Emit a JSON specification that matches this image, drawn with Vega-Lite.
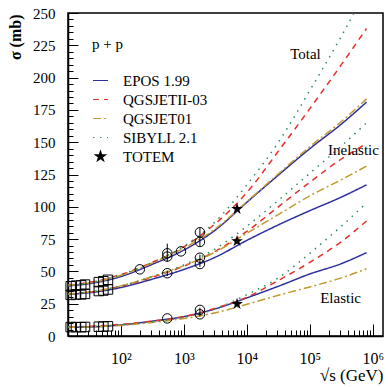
{
  "$schema": "https://vega.github.io/schema/vega-lite/v6.json",
  "width": 315,
  "height": 323,
  "autosize": {"type": "none"},
  "padding": {"left": 68, "top": 13, "right": 5, "bottom": 51},
  "config": {
    "view": {"stroke": "black", "strokeWidth": 1.5},
    "font": "Liberation Serif",
    "axis": {"grid": false, "domainColor": "black", "domainWidth": 1.5, "tickColor": "black", "tickWidth": 1, "labelColor": "black", "titleColor": "black", "labelFont": "Liberation Serif", "titleFont": "Liberation Serif"}
  },
  "resolve": {"axis": {"x": "independent", "y": "independent"}},
  "datasets": {
    "curves": [
      {"m": "EPOS 1.99", "k": "tot", "E": 14.45, "s": 38.8}, {"m": "EPOS 1.99", "k": "tot", "E": 31.62, "s": 40.5}, {"m": "EPOS 1.99", "k": "tot", "E": 100, "s": 46}, {"m": "EPOS 1.99", "k": "tot", "E": 316.2, "s": 55.5}, {"m": "EPOS 1.99", "k": "tot", "E": 1000, "s": 66.5}, {"m": "EPOS 1.99", "k": "tot", "E": 3162, "s": 82}, {"m": "EPOS 1.99", "k": "tot", "E": 10000, "s": 103.5}, {"m": "EPOS 1.99", "k": "tot", "E": 31623, "s": 124.5}, {"m": "EPOS 1.99", "k": "tot", "E": 100000, "s": 145}, {"m": "EPOS 1.99", "k": "tot", "E": 316228, "s": 164}, {"m": "EPOS 1.99", "k": "tot", "E": 794328, "s": 181},
      {"m": "EPOS 1.99", "k": "inel", "E": 14.45, "s": 32.3}, {"m": "EPOS 1.99", "k": "inel", "E": 31.62, "s": 33.5}, {"m": "EPOS 1.99", "k": "inel", "E": 100, "s": 37.5}, {"m": "EPOS 1.99", "k": "inel", "E": 316.2, "s": 44}, {"m": "EPOS 1.99", "k": "inel", "E": 1000, "s": 51.5}, {"m": "EPOS 1.99", "k": "inel", "E": 3162, "s": 61}, {"m": "EPOS 1.99", "k": "inel", "E": 10000, "s": 74}, {"m": "EPOS 1.99", "k": "inel", "E": 31623, "s": 86}, {"m": "EPOS 1.99", "k": "inel", "E": 100000, "s": 97}, {"m": "EPOS 1.99", "k": "inel", "E": 316228, "s": 107.5}, {"m": "EPOS 1.99", "k": "inel", "E": 794328, "s": 117},
      {"m": "EPOS 1.99", "k": "el", "E": 14.45, "s": 6.8}, {"m": "EPOS 1.99", "k": "el", "E": 31.62, "s": 7.0}, {"m": "EPOS 1.99", "k": "el", "E": 100, "s": 8.5}, {"m": "EPOS 1.99", "k": "el", "E": 316.2, "s": 11.5}, {"m": "EPOS 1.99", "k": "el", "E": 1000, "s": 15}, {"m": "EPOS 1.99", "k": "el", "E": 3162, "s": 21}, {"m": "EPOS 1.99", "k": "el", "E": 10000, "s": 29.5}, {"m": "EPOS 1.99", "k": "el", "E": 31623, "s": 38.5}, {"m": "EPOS 1.99", "k": "el", "E": 100000, "s": 48}, {"m": "EPOS 1.99", "k": "el", "E": 316228, "s": 56}, {"m": "EPOS 1.99", "k": "el", "E": 794328, "s": 64.5},
      {"m": "QGSJETII-03", "k": "tot", "E": 14.45, "s": 39.5}, {"m": "QGSJETII-03", "k": "tot", "E": 31.62, "s": 41.5}, {"m": "QGSJETII-03", "k": "tot", "E": 100, "s": 47.5}, {"m": "QGSJETII-03", "k": "tot", "E": 316.2, "s": 57}, {"m": "QGSJETII-03", "k": "tot", "E": 1000, "s": 69}, {"m": "QGSJETII-03", "k": "tot", "E": 3162, "s": 87}, {"m": "QGSJETII-03", "k": "tot", "E": 10000, "s": 111}, {"m": "QGSJETII-03", "k": "tot", "E": 31623, "s": 143}, {"m": "QGSJETII-03", "k": "tot", "E": 100000, "s": 176}, {"m": "QGSJETII-03", "k": "tot", "E": 316228, "s": 210}, {"m": "QGSJETII-03", "k": "tot", "E": 794328, "s": 238},
      {"m": "QGSJETII-03", "k": "inel", "E": 14.45, "s": 32.5}, {"m": "QGSJETII-03", "k": "inel", "E": 31.62, "s": 34}, {"m": "QGSJETII-03", "k": "inel", "E": 100, "s": 38.5}, {"m": "QGSJETII-03", "k": "inel", "E": 316.2, "s": 45.5}, {"m": "QGSJETII-03", "k": "inel", "E": 1000, "s": 54}, {"m": "QGSJETII-03", "k": "inel", "E": 3162, "s": 65.5}, {"m": "QGSJETII-03", "k": "inel", "E": 10000, "s": 81}, {"m": "QGSJETII-03", "k": "inel", "E": 31623, "s": 100}, {"m": "QGSJETII-03", "k": "inel", "E": 100000, "s": 119}, {"m": "QGSJETII-03", "k": "inel", "E": 316228, "s": 137}, {"m": "QGSJETII-03", "k": "inel", "E": 794328, "s": 149},
      {"m": "QGSJETII-03", "k": "el", "E": 14.45, "s": 7}, {"m": "QGSJETII-03", "k": "el", "E": 31.62, "s": 7.5}, {"m": "QGSJETII-03", "k": "el", "E": 100, "s": 9}, {"m": "QGSJETII-03", "k": "el", "E": 316.2, "s": 11.5}, {"m": "QGSJETII-03", "k": "el", "E": 1000, "s": 15}, {"m": "QGSJETII-03", "k": "el", "E": 3162, "s": 21.5}, {"m": "QGSJETII-03", "k": "el", "E": 10000, "s": 30}, {"m": "QGSJETII-03", "k": "el", "E": 31623, "s": 43}, {"m": "QGSJETII-03", "k": "el", "E": 100000, "s": 57}, {"m": "QGSJETII-03", "k": "el", "E": 316228, "s": 73}, {"m": "QGSJETII-03", "k": "el", "E": 794328, "s": 89},
      {"m": "QGSJET01", "k": "tot", "E": 14.45, "s": 39.2}, {"m": "QGSJET01", "k": "tot", "E": 31.62, "s": 41}, {"m": "QGSJET01", "k": "tot", "E": 100, "s": 47}, {"m": "QGSJET01", "k": "tot", "E": 316.2, "s": 56.5}, {"m": "QGSJET01", "k": "tot", "E": 1000, "s": 68}, {"m": "QGSJET01", "k": "tot", "E": 3162, "s": 83}, {"m": "QGSJET01", "k": "tot", "E": 10000, "s": 104}, {"m": "QGSJET01", "k": "tot", "E": 31623, "s": 125.5}, {"m": "QGSJET01", "k": "tot", "E": 100000, "s": 146.5}, {"m": "QGSJET01", "k": "tot", "E": 316228, "s": 166}, {"m": "QGSJET01", "k": "tot", "E": 794328, "s": 183.5},
      {"m": "QGSJET01", "k": "inel", "E": 14.45, "s": 32.4}, {"m": "QGSJET01", "k": "inel", "E": 31.62, "s": 34}, {"m": "QGSJET01", "k": "inel", "E": 100, "s": 38.8}, {"m": "QGSJET01", "k": "inel", "E": 316.2, "s": 46}, {"m": "QGSJET01", "k": "inel", "E": 1000, "s": 54.5}, {"m": "QGSJET01", "k": "inel", "E": 3162, "s": 65}, {"m": "QGSJET01", "k": "inel", "E": 10000, "s": 79.5}, {"m": "QGSJET01", "k": "inel", "E": 31623, "s": 94}, {"m": "QGSJET01", "k": "inel", "E": 100000, "s": 108.5}, {"m": "QGSJET01", "k": "inel", "E": 316228, "s": 121}, {"m": "QGSJET01", "k": "inel", "E": 794328, "s": 131.5},
      {"m": "QGSJET01", "k": "el", "E": 14.45, "s": 6.8}, {"m": "QGSJET01", "k": "el", "E": 31.62, "s": 7.0}, {"m": "QGSJET01", "k": "el", "E": 100, "s": 8.2}, {"m": "QGSJET01", "k": "el", "E": 316.2, "s": 10.5}, {"m": "QGSJET01", "k": "el", "E": 1000, "s": 13.5}, {"m": "QGSJET01", "k": "el", "E": 3162, "s": 18}, {"m": "QGSJET01", "k": "el", "E": 10000, "s": 24.5}, {"m": "QGSJET01", "k": "el", "E": 31623, "s": 31.5}, {"m": "QGSJET01", "k": "el", "E": 100000, "s": 38}, {"m": "QGSJET01", "k": "el", "E": 316228, "s": 45}, {"m": "QGSJET01", "k": "el", "E": 794328, "s": 52},
      {"m": "SIBYLL 2.1", "k": "tot", "E": 14.45, "s": 39}, {"m": "SIBYLL 2.1", "k": "tot", "E": 31.62, "s": 41.2}, {"m": "SIBYLL 2.1", "k": "tot", "E": 100, "s": 47.5}, {"m": "SIBYLL 2.1", "k": "tot", "E": 316.2, "s": 57}, {"m": "SIBYLL 2.1", "k": "tot", "E": 1000, "s": 69.5}, {"m": "SIBYLL 2.1", "k": "tot", "E": 3162, "s": 88.5}, {"m": "SIBYLL 2.1", "k": "tot", "E": 10000, "s": 117}, {"m": "SIBYLL 2.1", "k": "tot", "E": 31623, "s": 150}, {"m": "SIBYLL 2.1", "k": "tot", "E": 100000, "s": 190}, {"m": "SIBYLL 2.1", "k": "tot", "E": 316228, "s": 232}, {"m": "SIBYLL 2.1", "k": "tot", "E": 794328, "s": 268},
      {"m": "SIBYLL 2.1", "k": "inel", "E": 14.45, "s": 32.3}, {"m": "SIBYLL 2.1", "k": "inel", "E": 31.62, "s": 34}, {"m": "SIBYLL 2.1", "k": "inel", "E": 100, "s": 38.7}, {"m": "SIBYLL 2.1", "k": "inel", "E": 316.2, "s": 46}, {"m": "SIBYLL 2.1", "k": "inel", "E": 1000, "s": 55}, {"m": "SIBYLL 2.1", "k": "inel", "E": 3162, "s": 67.5}, {"m": "SIBYLL 2.1", "k": "inel", "E": 10000, "s": 85}, {"m": "SIBYLL 2.1", "k": "inel", "E": 31623, "s": 105}, {"m": "SIBYLL 2.1", "k": "inel", "E": 100000, "s": 126}, {"m": "SIBYLL 2.1", "k": "inel", "E": 316228, "s": 147}, {"m": "SIBYLL 2.1", "k": "inel", "E": 794328, "s": 165},
      {"m": "SIBYLL 2.1", "k": "el", "E": 14.45, "s": 6.7}, {"m": "SIBYLL 2.1", "k": "el", "E": 31.62, "s": 7.2}, {"m": "SIBYLL 2.1", "k": "el", "E": 100, "s": 8.8}, {"m": "SIBYLL 2.1", "k": "el", "E": 316.2, "s": 11}, {"m": "SIBYLL 2.1", "k": "el", "E": 1000, "s": 14.5}, {"m": "SIBYLL 2.1", "k": "el", "E": 3162, "s": 21}, {"m": "SIBYLL 2.1", "k": "el", "E": 10000, "s": 32}, {"m": "SIBYLL 2.1", "k": "el", "E": 31623, "s": 45}, {"m": "SIBYLL 2.1", "k": "el", "E": 100000, "s": 64}, {"m": "SIBYLL 2.1", "k": "el", "E": 316228, "s": 85}, {"m": "SIBYLL 2.1", "k": "el", "E": 794328, "s": 103}
    ],
    "pts": [
      {"E": 16, "s": 38.5, "sym": "square"}, {"E": 19.4, "s": 39, "sym": "square"}, {"E": 23.5, "s": 39.2, "sym": "square"}, {"E": 27, "s": 39.8, "sym": "square"}, {"E": 44.7, "s": 41.7, "sym": "square"}, {"E": 52.8, "s": 42.4, "sym": "square"}, {"E": 62.5, "s": 43.5, "sym": "square"},
      {"E": 16, "s": 31.8, "sym": "square"}, {"E": 19.4, "s": 32.2, "sym": "square"}, {"E": 23.5, "s": 32.2, "sym": "square"}, {"E": 27, "s": 32.6, "sym": "square"}, {"E": 44.7, "s": 34.8, "sym": "square"}, {"E": 52.8, "s": 35.2, "sym": "square"}, {"E": 62.5, "s": 36.0, "sym": "square"},
      {"E": 16, "s": 6.9, "sym": "square"}, {"E": 19.4, "s": 6.9, "sym": "square"}, {"E": 23.5, "s": 6.8, "sym": "square"}, {"E": 27, "s": 7.0, "sym": "square"}, {"E": 44.7, "s": 7.2, "sym": "square"}, {"E": 52.8, "s": 7.3, "sym": "square"}, {"E": 62.5, "s": 7.5, "sym": "square"},
      {"E": 200, "s": 51.6, "sym": "circle"}, {"E": 546, "s": 61.5, "sym": "circle"}, {"E": 546, "s": 64, "sym": "circle"}, {"E": 900, "s": 65.5, "sym": "circle"}, {"E": 1800, "s": 72.8, "sym": "circle"}, {"E": 1800, "s": 80.3, "sym": "circle"},
      {"E": 546, "s": 48.6, "sym": "circle"}, {"E": 1800, "s": 55.7, "sym": "circle"}, {"E": 1800, "s": 60.6, "sym": "circle"},
      {"E": 546, "s": 13.6, "sym": "circle"}, {"E": 1800, "s": 16.8, "sym": "circle"}, {"E": 1800, "s": 20.2, "sym": "circle"}
    ],
    "errs": [
      {"E": 546, "lo": 57.5, "hi": 71.5}, {"E": 1800, "lo": 69.5, "hi": 83.5}, {"E": 1800, "lo": 53.5, "hi": 63}, {"E": 1800, "lo": 15, "hi": 22}, {"E": 546, "lo": 46.5, "hi": 50.5}
    ],
    "totem": [
      {"E": 7000, "s": 98.3}, {"E": 7000, "s": 73.5}, {"E": 7000, "s": 24.8}
    ],
    "labels": [
      {"E": 48700, "s": 218, "t": "Total"}, {"E": 195000, "s": 144, "t": "Inelastic"}, {"E": 146000, "s": 29.2, "t": "Elastic"}
    ]
  },
  "layer": [
    {
      "data": {"name": "curves"},
      "mark": {"type": "line", "clip": true, "strokeWidth": 1.5, "interpolate": "monotone"},
      "encoding": {
        "x": {
          "field": "E", "type": "quantitative",
          "scale": {"type": "log", "domain": [14.5, 1450000], "nice": false},
          "axis": {
            "orient": "bottom",
            "title": "√s (GeV)", "titleFontSize": 17, "titleFontWeight": "normal", "titleAlign": "right", "titleBaseline": "middle", "titleX": 315, "titleY": 39,
            "values": [100, 1000, 10000, 100000, 1000000],
            "labelExpr": "'10' + ['⁰','¹','²','³','⁴','⁵','⁶'][round(log(datum.value)/LN10)]",
            "tickSize": -12,
            "labelPadding": 26, "labelFontSize": 16, "labelOverlap": false, "labelFlush": false, "labelBound": false
          }
        },
        "y": {
          "field": "s", "type": "quantitative",
          "scale": {"domain": [0, 250], "nice": false},
          "axis": {
            "orient": "left",
            "title": "σ (mb)", "titleFontSize": 16, "titleFontWeight": "bold", "titleAngle": -90, "titleAlign": "right", "titleBaseline": "middle", "titleX": -53, "titleY": 1,
            "values": [0, 25, 50, 75, 100, 125, 150, 175, 200, 225, 250],
            "tickSize": -10,
            "labelPadding": 23, "labelFontSize": 15, "labelOverlap": false, "labelFlush": false, "labelBound": false
          }
        },
        "color": {
          "field": "m", "type": "nominal",
          "scale": {"domain": ["EPOS 1.99", "QGSJETII-03", "QGSJET01", "SIBYLL 2.1", "TOTEM"], "range": ["#2f2f9c", "#e8302a", "#c09a30", "#2e8b57", "#000000"]},
          "legend": {
            "orient": "none", "legendX": 24, "legendY": 24,
            "title": "p + p", "titleFont": "Liberation Serif", "titleFontSize": 15, "titleFontWeight": "normal", "titleColor": "black", "titlePadding": 20,
            "labelFont": "Liberation Serif", "labelFontSize": 15, "labelColor": "black", "labelOffset": 14,
            "symbolType": "stroke", "symbolSize": 225, "symbolStrokeWidth": 1.2, "rowPadding": 2,
            "encode": {"symbols": {"update": {
              "shape": {"signal": "datum.value === 'TOTEM' ? 'M0,-1L0.225,-0.309L0.951,-0.309L0.363,0.118L0.588,0.809L0,0.382L-0.588,0.809L-0.363,0.118L-0.951,-0.309L-0.225,-0.309Z' : 'stroke'"},
              "fill": {"signal": "datum.value === 'TOTEM' ? 'black' : 'transparent'"},
              "size": {"signal": "datum.value === 'TOTEM' ? 110 : 225"}
            }}}
          }
        },
        "strokeDash": {
          "field": "m", "type": "nominal",
          "scale": {"domain": ["EPOS 1.99", "QGSJETII-03", "QGSJET01", "SIBYLL 2.1", "TOTEM"], "range": [[1, 0], [6, 5], [8, 3, 2, 3], [1.5, 5.5], [1, 0]]}
        },
        "detail": {"field": "k", "type": "nominal"}
      }
    },
    {
      "data": {"name": "errs"},
      "mark": {"type": "rule", "color": "black", "strokeWidth": 1},
      "encoding": {
        "x": {"field": "E", "type": "quantitative",
          "axis": {"orient": "bottom", "title": null, "labels": false, "domain": false, "grid": false, "tickSize": -6,
            "values": [20, 30, 40, 50, 60, 70, 80, 90, 200, 300, 400, 500, 600, 700, 800, 900, 2000, 3000, 4000, 5000, 6000, 7000, 8000, 9000, 20000, 30000, 40000, 50000, 60000, 70000, 80000, 90000, 200000, 300000, 400000, 500000, 600000, 700000, 800000, 900000]}},
        "y": {"field": "lo", "type": "quantitative",
          "axis": {"orient": "left", "title": null, "labels": false, "domain": false, "grid": false, "tickSize": -5,
            "values": [5, 10, 15, 20, 30, 35, 40, 45, 55, 60, 65, 70, 80, 85, 90, 95, 105, 110, 115, 120, 130, 135, 140, 145, 155, 160, 165, 170, 180, 185, 190, 195, 205, 210, 215, 220, 230, 235, 240, 245]}},
        "y2": {"field": "hi"}
      }
    },
    {
      "data": {"name": "pts"},
      "mark": {"type": "point", "filled": false, "stroke": "black", "strokeWidth": 1, "size": 90, "opacity": 1},
      "encoding": {
        "x": {"field": "E", "type": "quantitative", "axis": null},
        "y": {"field": "s", "type": "quantitative", "axis": null},
        "shape": {"field": "sym", "type": "nominal", "scale": {"domain": ["circle", "square"], "range": ["circle", "square"]}, "legend": null}
      }
    },
    {
      "data": {"name": "totem"},
      "mark": {"type": "point", "shape": "M0,-1L0.225,-0.309L0.951,-0.309L0.363,0.118L0.588,0.809L0,0.382L-0.588,0.809L-0.363,0.118L-0.951,-0.309L-0.225,-0.309Z", "filled": true, "color": "black", "size": 150, "opacity": 1},
      "encoding": {
        "x": {"field": "E", "type": "quantitative", "axis": null},
        "y": {"field": "s", "type": "quantitative", "axis": null}
      }
    },
    {
      "data": {"name": "labels"},
      "mark": {"type": "text", "align": "left", "baseline": "middle", "fontSize": 15, "font": "Liberation Serif", "color": "black"},
      "encoding": {
        "x": {"field": "E", "type": "quantitative", "axis": null},
        "y": {"field": "s", "type": "quantitative", "axis": null},
        "text": {"field": "t"}
      }
    }
  ]
}
